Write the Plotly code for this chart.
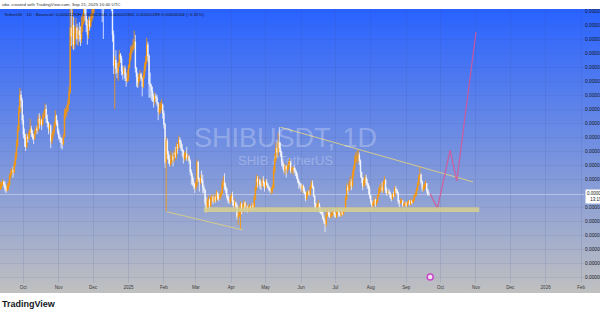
import base64, struct, zlib
import pandas as pd
import plotly.graph_objects as go

# ---------------- DATA (prices in units of 1e-6 USDT) ----------------
first_open_u = 13.3
close_u = [
    # Sep 2024 (11-30)
    13.5,13.6,13.8,13.6,13.3,13.2,13.5,13.6,14.2,14.4,14.6,14.5,15.0,15.6,16.4,17.5,18.8,20.0,19.6,18.2,
    # Oct
    17.2,16.9,16.3,17.0,16.9,17.3,17.6,17.3,17.0,16.9,17.3,17.6,17.5,18.3,18.0,18.2,17.9,18.4,18.6,19.0,18.3,18.0,17.6,17.8,16.7,17.1,17.4,17.8,18.5,18.0,17.4,
    # Nov
    17.0,16.9,16.6,16.5,17.0,18.6,18.8,18.9,19.4,20.2,24.8,24.2,25.0,23.6,24.4,24.8,24.0,24.6,24.3,24.0,25.0,25.2,26.5,25.7,25.0,24.3,25.3,24.9,25.4,25.8,
    # Dec
    26.5,27.8,28.6,30.0,29.1,30.2,30.5,30.4,27.3,26.4,27.9,27.8,28.0,27.0,27.6,27.0,26.7,24.3,22.1,22.5,21.9,21.6,22.2,22.9,22.6,21.7,21.5,21.9,21.2,21.0,21.2,
    # Jan 2025
    22.0,22.6,23.2,23.3,23.5,23.8,21.9,21.3,20.9,21.2,21.5,21.2,20.6,21.4,22.0,22.4,23.6,22.8,20.8,20.6,20.3,19.9,19.6,19.9,19.8,19.4,18.8,19.0,19.2,19.3,18.7,
    # Feb
    17.9,15.2,16.7,15.8,15.4,15.1,15.3,15.6,15.4,15.9,15.7,16.3,16.2,16.8,16.6,16.2,16.0,15.5,15.7,15.8,15.5,15.6,15.3,14.5,14.2,13.8,13.6,13.4,
    # Mar
    13.7,15.2,14.0,13.8,14.0,13.9,13.4,13.2,12.3,11.9,12.4,12.5,12.1,12.6,12.7,12.4,12.7,12.5,13.0,12.7,12.6,12.8,13.0,13.6,13.8,13.5,13.3,12.8,12.5,12.4,12.6,
    # Apr
    12.8,12.4,12.1,12.3,12.1,11.3,11.4,11.6,12.2,11.8,12.0,12.3,11.9,12.0,11.8,11.9,12.0,11.9,12.1,12.0,12.6,13.3,14.0,13.8,13.9,13.6,13.5,13.9,13.7,13.4,
    # May
    13.8,13.6,13.4,13.2,13.2,13.3,13.4,14.6,15.4,16.2,15.9,16.6,16.2,15.9,15.2,15.0,14.6,14.9,14.7,14.8,15.1,15.2,14.6,14.7,14.8,14.6,14.5,14.2,13.9,13.7,13.6,
    # Jun
    13.3,13.5,13.2,13.0,12.6,12.9,13.1,12.9,13.4,13.7,13.4,12.8,12.2,12.0,12.1,12.2,11.8,11.6,11.6,11.2,11.0,10.8,11.4,11.6,11.5,11.3,11.4,11.5,11.7,11.5,
    # Jul
    11.3,11.6,11.8,11.5,11.4,11.6,11.5,11.7,11.9,12.6,13.4,13.2,13.6,13.8,13.5,14.3,14.8,15.3,15.6,15.6,15.7,15.3,14.5,14.1,13.5,13.8,14.1,13.7,13.6,13.3,12.8,
    # Aug
    12.4,12.1,12.3,12.5,12.2,12.4,12.8,13.1,13.3,13.4,13.2,13.7,13.9,13.2,13.0,13.1,13.0,12.7,12.6,12.9,12.8,13.3,13.2,13.0,12.4,12.3,12.4,12.4,12.1,12.2,12.3,
    # Sep 2025 (1-21)
    12.1,12.3,12.4,12.2,12.4,12.3,12.5,12.8,12.9,13.2,13.6,14.1,14.3,13.8,13.3,13.4,13.5,13.7,13.2,12.92,12.89,
]
high_u = [
    13.8,13.8,14.0,13.9,13.8,13.5,13.7,13.8,14.4,14.7,14.8,14.9,15.3,15.9,16.8,17.8,19.2,20.5,20.3,19.8,
    18.6,17.6,17.2,17.3,17.2,17.5,18.3,17.8,17.5,17.2,17.5,17.8,17.8,18.6,18.7,18.5,18.3,18.7,18.9,19.4,19.3,18.6,18.1,18.0,17.9,17.3,17.6,18.1,18.9,18.6,18.2,
    17.6,17.2,17.0,16.9,17.2,19.0,19.1,19.3,19.7,20.6,26.5,27.0,26.3,25.6,24.9,25.5,25.1,24.9,25.2,24.9,25.6,25.8,28.0,27.5,26.3,25.4,25.6,25.6,25.8,26.3,
    27.2,28.5,29.5,31.0,31.5,30.8,31.2,31.0,30.7,27.8,28.3,28.6,28.5,28.3,27.9,28.3,27.3,26.9,24.6,22.8,23.2,22.3,22.4,23.2,23.0,22.8,22.1,22.1,22.1,21.6,21.8,
    22.2,23.0,23.5,23.6,24.0,24.6,24.3,22.0,21.6,21.5,21.8,21.6,21.3,21.7,22.3,22.8,24.1,23.8,22.9,21.6,20.8,20.6,20.1,20.2,20.1,20.0,19.5,19.4,19.5,19.7,19.4,
    18.9,18.0,17.0,16.9,16.0,15.7,16.0,15.8,15.9,16.1,16.3,16.6,16.5,17.1,17.0,16.8,16.5,16.1,15.9,16.0,16.3,15.8,15.7,15.4,14.7,14.4,14.1,13.7,
    13.9,15.4,15.3,14.1,14.3,14.6,14.3,13.6,13.3,12.7,12.6,12.8,12.6,12.8,12.9,12.8,12.9,12.8,13.2,13.1,12.9,13.0,13.2,13.9,14.2,14.4,13.7,13.4,12.9,12.7,12.8,
    13.0,13.1,12.5,12.6,12.4,12.2,11.7,12.1,12.4,12.3,12.2,12.5,12.4,12.3,12.1,12.1,12.2,12.1,12.3,12.3,12.8,13.5,14.3,14.2,14.2,14.0,13.8,14.1,14.2,13.8,
    14.0,14.0,13.7,13.5,13.4,13.4,13.6,14.9,15.8,16.6,16.8,17.3,17.7,16.6,16.0,15.4,15.1,15.1,15.0,15.0,15.3,15.5,15.3,14.9,14.9,15.0,14.8,14.6,14.4,14.0,13.8,
    13.7,13.6,13.6,13.4,13.1,13.1,13.2,13.2,13.5,13.9,13.9,13.5,12.8,12.3,12.3,12.5,12.3,12.0,11.8,11.8,11.4,11.1,11.6,11.9,11.8,11.7,11.6,11.7,11.8,11.9,
    11.6,11.7,12.0,11.9,11.6,11.7,11.8,11.8,12.0,12.8,13.7,13.6,13.9,14.2,14.0,14.6,15.0,15.7,15.9,16.0,16.1,15.9,15.4,14.5,14.1,14.0,14.3,14.3,14.0,13.7,13.5,
    12.9,12.5,12.4,12.7,12.6,12.5,12.9,13.4,13.6,13.7,13.8,13.9,14.2,14.0,13.4,13.2,13.3,13.1,12.9,13.0,13.1,13.5,13.5,13.3,13.1,12.5,12.6,12.6,12.5,12.3,12.4,
    12.4,12.4,12.5,12.5,12.6,12.5,12.6,12.9,13.1,13.4,13.8,14.3,14.9,14.4,13.9,13.6,13.7,13.9,13.7,13.3,13.04,
]
low_u = [
    13.2,13.3,13.5,13.4,13.1,13.0,13.1,13.2,13.5,14.0,14.3,14.1,14.4,14.9,15.4,16.3,17.4,18.7,19.1,17.9,
    16.9,16.3,16.0,16.2,16.6,16.8,17.2,17.0,16.8,16.5,16.8,17.2,17.2,17.4,17.6,17.8,17.5,17.8,18.3,18.5,18.0,17.7,17.2,17.4,16.2,16.5,16.9,17.2,17.7,17.8,17.2,
    16.8,16.6,16.2,16.1,16.4,17.0,18.3,18.5,18.8,19.3,20.1,23.5,23.3,23.2,23.3,24.0,23.6,23.5,23.8,23.5,23.7,24.5,25.1,25.3,24.5,23.6,24.0,24.6,24.8,25.2,
    25.5,25.9,27.0,28.4,27.8,28.6,29.8,29.6,25.2,24.0,26.1,27.2,27.0,26.6,26.7,26.3,26.0,23.8,21.5,19.0,21.5,21.2,21.0,22.0,22.3,21.4,21.1,21.4,21.0,20.6,20.9,
    21.0,21.9,22.4,22.9,23.1,23.3,21.6,20.6,20.5,20.6,21.0,21.0,19.9,20.5,21.2,21.7,22.2,22.4,19.8,19.8,19.6,19.5,19.1,19.3,19.5,19.2,18.2,18.6,18.7,18.9,18.3,
    17.6,14.8,11.7,15.4,15.1,14.9,14.9,15.1,14.9,15.2,15.5,15.4,15.8,16.1,16.3,16.0,15.6,15.1,15.3,15.4,15.3,15.3,15.1,14.3,13.6,13.5,13.3,13.0,
    13.2,13.5,13.8,13.1,13.6,13.7,13.0,13.0,12.1,11.6,11.6,12.0,11.9,12.0,12.4,12.2,12.3,12.3,12.4,12.5,12.4,12.5,12.7,12.9,13.4,13.2,13.0,12.6,12.3,12.2,12.2,
    12.4,12.1,11.9,11.8,11.9,11.1,10.7,11.3,10.4,11.5,11.6,11.9,11.7,11.8,11.6,11.6,11.8,11.8,11.9,11.8,11.9,12.5,13.2,13.4,13.5,13.3,13.2,13.4,13.5,13.1,
    13.3,13.5,13.3,13.1,13.0,12.9,13.0,13.3,14.4,15.2,15.5,15.6,15.9,15.6,14.9,14.7,14.4,14.3,14.1,14.4,14.6,14.9,14.4,14.4,14.3,14.4,14.2,14.0,13.7,13.3,13.4,
    13.1,13.0,13.0,12.9,12.4,12.5,12.8,12.8,12.8,13.3,13.3,12.7,11.9,11.8,11.9,11.9,11.6,11.5,11.4,11.1,10.8,10.2,10.6,11.3,11.3,11.2,11.2,11.3,11.4,11.3,
    11.2,11.2,11.5,11.3,11.3,11.3,11.4,11.4,11.6,11.8,12.5,12.9,13.1,13.3,13.2,13.4,14.1,14.6,15.1,15.1,15.2,15.0,14.1,13.7,13.2,13.4,13.6,13.5,13.3,12.9,12.6,
    12.2,11.8,11.9,12.1,12.0,12.1,12.3,12.7,13.0,13.1,13.0,13.0,13.6,13.0,12.8,12.9,12.9,12.6,12.4,12.5,12.7,12.7,13.0,12.9,12.2,12.0,12.2,12.3,12.0,12.0,12.1,
    12.0,12.0,12.2,12.1,12.1,12.2,12.3,12.4,12.7,12.8,13.2,13.5,13.9,13.6,13.1,13.1,13.2,13.4,13.0,12.8,12.80,
]
assert len(close_u) == len(high_u) == len(low_u) == 376

month_ticks = ["2024-10-01","2024-11-01","2024-12-01","2025-01-01","2025-02-01","2025-03-01",
               "2025-04-01","2025-05-01","2025-06-01","2025-07-01","2025-08-01","2025-09-01",
               "2025-10-01","2025-11-01","2025-12-01","2026-01-01","2026-02-01"]
month_labels = ["Oct","Nov","Dec","2025","Feb","Mar","Apr","May","Jun","Jul","Aug","Sep",
                "Oct","Nov","Dec","2026","Feb"]
# price-scale tick values (1e-6); 13 is hidden behind the last-price label
price_ticks_u = [7,8,9,10,11,12,14,15,16,17,18,19,20,21,22,23,24,25,26]

# drawings (date, price in 1e-6)
upper_trend_dates = ["2025-05-14", "2025-10-29 12:00"]
upper_trend_vals = [17.7, 13.79]
lower_trend_dates = ["2025-02-03 12:00", "2025-04-11"]
lower_trend_vals = [11.66, 10.36]
support_dates = ["2025-03-08", "2025-11-04"]
support_vals = [11.64, 11.98]
proj_dates = ["2025-09-22", "2025-09-28 07:00", "2025-10-09 10:00", "2025-10-15 05:00", "2025-11-01 02:00"]
proj_vals = [12.95, 11.9, 16.07, 13.86, 24.5]

E = 1e-6
dates = pd.date_range("2024-09-11", periods=len(close_u), freq="D")
close = [v * E for v in close_u]
high = [v * E for v in high_u]
low = [v * E for v in low_u]
opn = [first_open_u * E] + close[:-1]

# ---------------- layout helpers ----------------
W, H = 600, 315
L, R, T, B = 0, 16, 9, 32
PW, PH = W - L - R, H - T - B
def px(x): return (x - L) / PW
def py(y): return (H - B - y) / PH

def gradient_png(h, top, bot, w=4):
    raw = b""
    for i in range(h):
        t = i / (h - 1)
        c = bytes(round(top[k] + (bot[k] - top[k]) * t) for k in range(3))
        raw += b"\x00" + c * w
    def chunk(tag, data):
        return struct.pack(">I", len(data)) + tag + data + struct.pack(">I", zlib.crc32(tag + data) & 0xffffffff)
    png = (b"\x89PNG\r\n\x1a\n" + chunk(b"IHDR", struct.pack(">IIBBBBB", w, h, 8, 2, 0, 0, 0))
           + chunk(b"IDAT", zlib.compress(raw)) + chunk(b"IEND", b""))
    return "data:image/png;base64," + base64.b64encode(png).decode()

bg = gradient_png(284, (41, 98, 255), (192, 192, 192))

ORANGE = "#FF9800"
TXT = "#131722"
FONT = "Liberation Sans"

fig = go.Figure()
fig.add_trace(go.Candlestick(
    x=dates, open=opn, high=high, low=low, close=close,
    increasing=dict(line=dict(color=ORANGE, width=0.8), fillcolor=ORANGE),
    decreasing=dict(line=dict(color="rgba(255,255,255,0.92)", width=0.8), fillcolor="rgba(255,255,255,0.92)"),
    whiskerwidth=0, hoverinfo="skip", showlegend=False))

fig.add_trace(go.Scatter(x=upper_trend_dates, y=[v * E for v in upper_trend_vals], mode="lines",
                         line=dict(color="rgba(215,205,135,0.95)", width=1), hoverinfo="skip", showlegend=False))
fig.add_trace(go.Scatter(x=lower_trend_dates, y=[v * E for v in lower_trend_vals], mode="lines",
                         line=dict(color="rgba(215,205,135,0.95)", width=1), hoverinfo="skip", showlegend=False))
fig.add_trace(go.Scatter(x=proj_dates, y=[v * E for v in proj_vals], mode="lines",
                         line=dict(color="rgba(215,85,150,0.9)", width=1.2), hoverinfo="skip", showlegend=False))
fig.add_trace(go.Scatter(x=["2025-09-22"], y=[7.0 * E], mode="markers",
                         marker=dict(size=6, color="#f3e6f3", line=dict(color="#c84bc8", width=1.6)),
                         hoverinfo="skip", showlegend=False))

fig.add_shape(type="rect", xref="x", yref="y", x0=support_dates[0], x1=support_dates[1],
              y0=support_vals[0] * E, y1=support_vals[1] * E,
              fillcolor="rgba(214,206,145,0.88)", line=dict(width=0), layer="above")
fig.add_shape(type="line", xref="paper", yref="y", x0=0, x1=1, y0=close[-1], y1=close[-1],
              line=dict(color="rgba(255,255,255,0.38)", width=1), layer="below")

fig.add_layout_image(dict(source=bg, xref="paper", yref="paper", x=0, y=py(9),
                          sizex=W / PW, sizey=284 / PH, xanchor="left", yanchor="top",
                          sizing="stretch", layer="below"))

ann = []
def A(x, y, text, size, color=TXT, xanchor="left", family=FONT, **kw):
    ann.append(dict(x=px(x), y=py(y), xref="paper", yref="paper", text=text, showarrow=False,
                    xanchor=xanchor, yanchor="middle", font=dict(size=size, color=color, family=family), **kw))

A(0, 4.6, "ubic created with TradingView.com, Sep 21, 2025 10:40 UTC", 4.4, "#333333")
A(1.5, 15, "TetherUS · 1D · Binance", 4.4)
A(48.5, 15, "O 0.00001292", 4.4)
A(76, 15, "H 0.00001304", 4.4)
A(104, 15, "L 0.00001280", 4.4)
A(129.5, 15, "C 0.00001289", 4.4)
A(156.5, 15, "−0.00000004 (−0.31%)", 4.4)
A(285, 137.5, "SHIBUSDT, 1D", 27, "rgba(255,255,255,0.27)", xanchor="center")
A(285, 160, "SHIB / TetherUS", 13, "rgba(255,255,255,0.27)", xanchor="center")
A(0, 303.5, "<b>TradingView</b>", 9, TXT)
A(584.5, 196, "0.00001289<br>13:19:30", 4.5, TXT, bgcolor="white", borderpad=1)

fig.update_layout(
    width=W, height=H, margin=dict(l=L, r=R, t=T, b=B, autoexpand=False),
    paper_bgcolor="white", plot_bgcolor="rgba(0,0,0,0)", template="none",
    showlegend=False, annotations=ann, hovermode=False,
    xaxis=dict(type="date", range=["2024-09-10 14:00", "2026-02-03 14:00"],
               tickvals=month_ticks, ticktext=month_labels,
               tickfont=dict(size=4.5, color="#3a3a3a", family=FONT),
               showgrid=True, gridcolor="rgba(60,80,150,0.13)", gridwidth=1,
               zeroline=False, showline=False, ticks="", automargin=False,
               rangeslider=dict(visible=False), fixedrange=True),
    yaxis=dict(side="right", range=[6.5714e-6, 26.1429e-6],
               tickvals=[v * E for v in price_ticks_u],
               tickformat=".8f", tickfont=dict(size=4.8, color=TXT, family=FONT),
               showgrid=True, gridcolor="rgba(60,80,150,0.10)", gridwidth=1,
               zeroline=False, showline=False, ticks="", automargin=False, fixedrange=True),
)

fig.write_html("out.html")
